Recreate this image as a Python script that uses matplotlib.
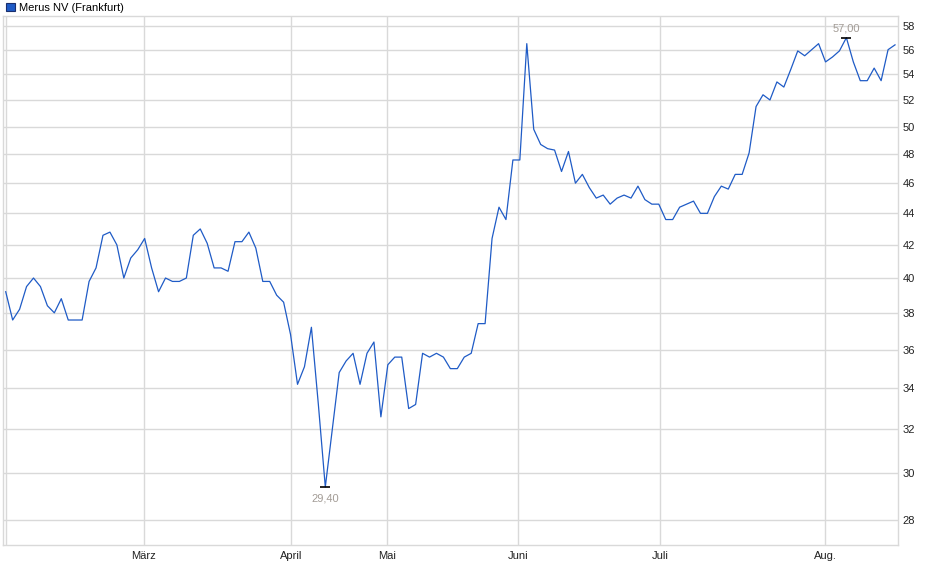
import matplotlib
matplotlib.use("Agg")
import matplotlib.pyplot as plt
from matplotlib.patches import Patch
import numpy as np

plt.rcParams['font.family'] = ['Liberation Sans', 'DejaVu Sans']

# Merus NV (Frankfurt), daily closing prices (EUR), Feb - Aug
prices = [
    39.20, 37.60, 38.20, 39.50, 40.00, 39.50, 38.40, 38.00, 38.80, 37.60,
    37.60, 37.60, 39.80, 40.60, 42.60, 42.80, 42.00, 40.00, 41.20, 41.70,
    42.40, 40.60, 39.20, 40.00, 39.80, 39.80, 40.00, 42.60, 43.00, 42.10,
    40.60, 40.60, 40.40, 42.20, 42.20, 42.80, 41.80, 39.80, 39.80, 39.00,
    38.60, 36.80, 34.20, 35.10, 37.20, 33.20, 29.40, 32.00, 34.80, 35.40,
    35.80, 34.20, 35.80, 36.40, 32.60, 35.20, 35.60, 35.60, 33.00, 33.20,
    35.80, 35.60, 35.80, 35.60, 35.00, 35.00, 35.60, 35.80, 37.40, 37.40,
    42.40, 44.40, 43.60, 47.60, 47.60, 56.50, 49.80, 48.70, 48.40, 48.30,
    46.80, 48.20, 46.00, 46.60, 45.70, 45.00, 45.20, 44.60, 45.00, 45.20,
    45.00, 45.80, 44.90, 44.60, 44.60, 43.60, 43.60, 44.40, 44.60, 44.80,
    44.00, 44.00, 45.10, 45.80, 45.60, 46.60, 46.60, 48.10, 51.50, 52.40,
    52.00, 53.40, 53.00, 54.40, 55.90, 55.50, 56.00, 56.50, 55.00, 55.40,
    55.90, 57.00, 55.00, 53.50, 53.50, 54.50, 53.50, 56.00, 56.40,
]

month_pos = [0, 19.9, 41.06, 54.88, 73.73, 94.17, 117.92]
month_labels = ["", "März", "April", "Mai", "Juni", "Juli", "Aug."]
y_ticks = [28, 30, 32, 34, 36, 38, 40, 42, 44, 46, 48, 50, 52, 54, 56, 58]

line_col = "#1f5bc6"
grid_col = "#d9d9d9"
note_col = "#a39c96"

x = np.arange(len(prices))

fig = plt.figure(figsize=(9.4, 5.79), dpi=100)
ax = fig.add_axes([3/940, 34/579, 895/940, 529/579])

ax.plot(x, prices, color=line_col, lw=0.9, zorder=3)

ax.set_yscale('log')
ax.set_ylim(26.99, 58.85)
ax.set_xlim(-0.39, len(prices) - 1 + 0.43)

ax.set_yticks(y_ticks)
ax.set_yticklabels([str(t) for t in y_ticks])
ax.yaxis.set_minor_locator(matplotlib.ticker.NullLocator())
ax.yaxis.tick_right()
ax.set_xticks(month_pos)
ax.set_xticklabels(month_labels)
ax.tick_params(axis='y', length=0, pad=3.5, labelsize=8, colors='#222222')
ax.tick_params(axis='x', length=0, pad=4, labelsize=8, colors='#222222')

ax.grid(True, color=grid_col, lw=1.0, zorder=0)
for s in ax.spines.values():
    s.set_color(grid_col)
    s.set_linewidth(1.0)

# min / max markers
i_min = int(np.argmin(prices))
i_max = int(np.argmax(prices))
for i, dy, va in [(i_min, -5, 'top'), (i_max, 3, 'bottom')]:
    ax.plot(i, prices[i], marker='_', ms=7, mew=1.2, color='black', zorder=4)
    ax.annotate(f"{prices[i]:.2f}".replace('.', ','), (i, prices[i]),
                xytext=(0, dy), textcoords='offset points',
                ha='center', va=va, fontsize=8, color=note_col)

fig.legend(handles=[Patch(facecolor=line_col, edgecolor='#1a2f6e', lw=0.8)],
           labels=["Merus NV (Frankfurt)"], loc='upper left',
           bbox_to_anchor=(-0.004, 1.012), frameon=False, fontsize=8,
           handlelength=0.75, handleheight=0.75, handletextpad=0.4)

fig.savefig("out.png", dpi=100)
